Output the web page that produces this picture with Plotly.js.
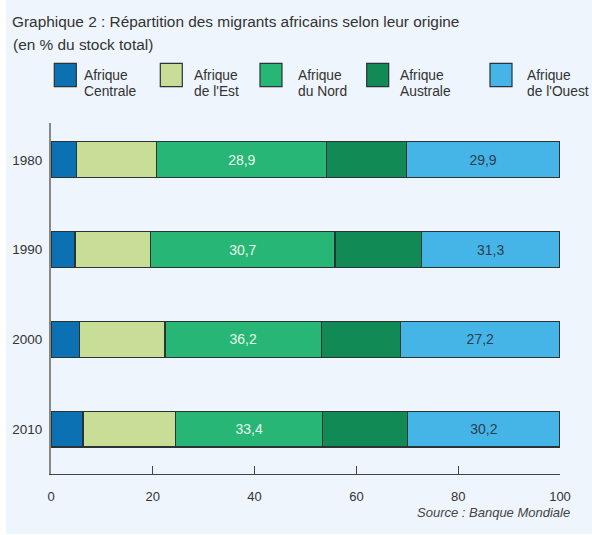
<!DOCTYPE html>
<html>
<head>
<meta charset="utf-8">
<script src="https://cdn.plot.ly/plotly-3.0.1.min.js"></script>
<style>html,body{margin:0;padding:0;background:#fff;}#chart{width:592px;height:535px;}</style>
</head>
<body>
<div id="chart"></div>
<script>
// Data (bar lengths as drawn in each row, labels as printed)
const years = ['1980', '1990', '2000', '2010'];
const seriesNames = ['Afrique Centrale', "Afrique de l'Est", 'Afrique du Nord', 'Afrique Australe', "Afrique de l'Ouest"];
const centrale = [5.0, 4.7, 5.6, 6.3];
const est = [15.8, 14.9, 16.8, 18.2];
const nord = [33.4, 36.2, 30.7, 28.9];
const australe = [15.6, 17.0, 15.6, 16.7];
const ouest = [30.2, 27.2, 31.3, 29.9];
const nordLabels = ['28,9', '30,7', '36,2', '33,4'];
const ouestLabels = ['29,9', '31,3', '27,2', '30,2'];
const xTicks = [0, 20, 40, 60, 80, 100];

const colors = ['#0c71b2', '#c8de96', '#27b675', '#118a55', '#45b5e8'];
const textColors = [null, null, '#e8f6ee', null, '#2b3d4f'];
const seriesValues = [centrale, est, nord, australe, ouest];
const seriesLabels = [null, null, nordLabels, null, ouestLabels];

const W = 592, H = 535;
const M = {l: 51, r: 32, t: 123, b: 61};
const plotW = W - M.l - M.r, plotH = H - M.t - M.b;
const px2x = p => (p - M.l) / plotW;
const py2y = p => (H - M.b - p) / plotH;
const FONT = 'Liberation Sans, Arial, Helvetica, sans-serif';

const traces = seriesValues.map((vals, i) => {
  const t = {
    type: 'bar',
    orientation: 'h',
    name: seriesNames[i],
    y: years,
    x: vals,
    width: 0.4,
    marker: {color: colors[i], line: {color: '#2a3434', width: 1.2}},
    hoverinfo: 'skip',
    showlegend: false
  };
  if (seriesLabels[i]) {
    t.text = seriesLabels[i];
    t.textposition = 'inside';
    t.insidetextanchor = 'middle';
    t.textangle = 0;
    t.constraintext = 'none';
    t.textfont = {family: FONT, size: 14, color: textColors[i]};
  } else {
    t.textposition = 'none';
  }
  return t;
});

// Custom legend (boxes + two-line labels)
const legendBoxX = [54.3, 160.3, 260, 366.7, 490];
const legendTextX = [81.5, 191.5, 295.5, 398, 525];
const shapes = [{
  type: 'rect', xref: 'paper', yref: 'paper', layer: 'below',
  x0: px2x(6), x1: px2x(592), y0: py2y(534), y1: py2y(0),
  fillcolor: '#eef5fd', line: {width: 0}
}];
const annotations = [];
seriesNames.forEach((n, i) => {
  shapes.push({
    type: 'rect', xref: 'paper', yref: 'paper',
    x0: px2x(legendBoxX[i]), x1: px2x(legendBoxX[i] + 22),
    y0: py2y(86.7), y1: py2y(63.3),
    fillcolor: colors[i], line: {color: '#2a3434', width: 1.2}
  });
  const sp = n.indexOf(' ');
  const lines = [n.slice(0, sp), n.slice(sp + 1)];
  const ly = [75, 91.7];
  lines.forEach((txt, k) => annotations.push({
    xref: 'paper', yref: 'paper', x: px2x(legendTextX[i]), y: py2y(ly[k]),
    xanchor: 'left', yanchor: 'middle', showarrow: false, text: txt,
    font: {family: FONT, size: 13.8, color: '#333333'}
  }));
});
annotations.push({
  xref: 'paper', yref: 'paper', x: px2x(10.5), y: py2y(44),
  xanchor: 'left', yanchor: 'middle', showarrow: false,
  text: '(en % du stock total)', font: {family: FONT, size: 15.4, color: '#333333'}
});
annotations.push({
  xref: 'paper', yref: 'paper', x: px2x(572), y: py2y(512.7),
  xanchor: 'right', yanchor: 'middle', showarrow: false,
  text: '<i>Source : Banque Mondiale</i>', font: {family: FONT, size: 13, color: '#444444'}
});

const layout = {
  width: W, height: H,
  margin: M,
  barmode: 'stack',
  paper_bgcolor: '#ffffff',
  plot_bgcolor: 'rgba(0,0,0,0)',
  font: {family: FONT, color: '#333333'},
  title: {
    text: 'Graphique 2 : Répartition des migrants africains selon leur origine',
    xref: 'container', yref: 'container',
    x: 12 / W, xanchor: 'left', y: 1 - 22 / H, yanchor: 'middle',
    font: {family: FONT, size: 15.4, color: '#333333'}
  },
  xaxis: {
    range: [0, 100], tickvals: xTicks, ticktext: xTicks.map(String),
    ticks: 'inside', ticklen: 8, tickcolor: '#444444', tickwidth: 1,
    showline: true, linecolor: '#444444', linewidth: 1,
    showgrid: false, zeroline: false, fixedrange: true,
    ticklabelstandoff: 10,
    tickfont: {family: FONT, size: 13, color: '#333333'}
  },
  yaxis: {
    type: 'category', categoryorder: 'array', categoryarray: years,
    range: [3.5, -0.41],
    showline: true, linecolor: '#888888', linewidth: 2,
    ticks: 'outside', ticklen: 4, tickcolor: 'rgba(0,0,0,0)',
    showgrid: false, zeroline: false, fixedrange: true,
    tickfont: {family: FONT, size: 13.5, color: '#333333'}
  },
  shapes: shapes,
  annotations: annotations,
  showlegend: false
};

Plotly.newPlot('chart', traces, layout, {displayModeBar: false, staticPlot: true});
</script>
</body>
</html>
